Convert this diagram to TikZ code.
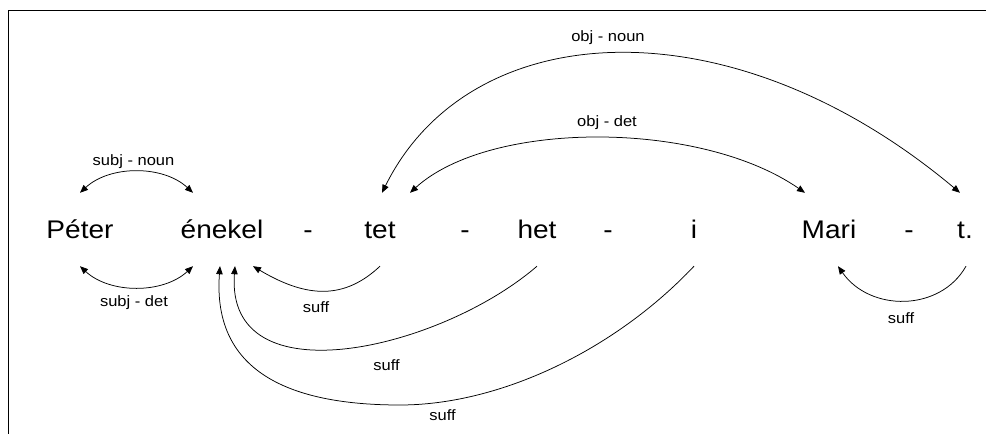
\documentclass[tikz,border=0pt]{standalone}
\usepackage{fontspec}
\setmainfont{Liberation Sans}
\newfontfamily\wordfont{Liberation Sans}[FakeStretch=1.1]
\usetikzlibrary{arrows.meta}
\begin{document}
\begin{tikzpicture}[x=1pt,y=-1pt,
  word/.style={inner sep=0pt,text height=18pt,text depth=0pt,minimum height=73pt,
    font=\wordfont\fontsize{25.5}{30}\selectfont},
  lab/.style={inner sep=0pt,anchor=base,font=\wordfont\fontsize{15}{18}\selectfont},
  dep/.style={line width=0.75pt,>={Triangle[length=8pt,width=6.5pt]}},
  frame/.style={line width=0.9pt}]
\useasboundingbox (0,0) rectangle (986,434);
\draw[frame] (8.5,434) -- (8.5,10.5) -- (986,10.5);

\node[word] (peter)  at (80,229.5)  {Péter};
\node[word] (enekel) at (222,229.5) {énekel};
\node[word] (d1)     at (308,229.5) {-};
\node[word] (tet)    at (380,229.5) {tet};
\node[word] (d2)     at (465,229.5) {-};
\node[word] (het)    at (537,229.5) {het};
\node[word] (d3)     at (608,229.5) {-};
\node[word] (i)      at (694,229.5) {i};
\node[word] (mari)   at (829,229.5) {Mari};
\node[word] (d4)     at (909,229.5) {-};
\node[word] (t)      at (965,229.5) {t.};

% subj arcs
\draw[dep,<->] (peter.north) .. controls (110,165) and (163,165) .. ([xshift=-29pt]enekel.north);
\node[lab] (lsn) at (133.5,165) {subj - noun};
\draw[dep,<->] (peter.south) .. controls (110,294) and (163,294) .. ([xshift=-29pt]enekel.south);
\node[lab] (lsd) at (134,306) {subj - det};

% obj arcs
\draw[dep,<->] ([xshift=2pt]tet.north) .. controls (470,15) and (730,0) .. ([xshift=-5pt]t.north);
\node[lab] (lon) at (608,41.5) {obj - noun};
\draw[dep,<->] ([xshift=30pt]tet.north) .. controls (490,120) and (700,120) .. ([xshift=-24pt]mari.north);
\node[lab] (lod) at (607,126.5) {obj - det};

% suff arcs
\draw[dep,->] (tet.south) .. controls (345,299) and (308,299) .. ([xshift=31pt]enekel.south);
\node[lab] (ls1) at (316,312) {suff};
\draw[dep,->] (het.south) .. controls (440,350) and (225,400) .. ([xshift=13pt]enekel.south);
\node[lab] (ls2) at (386.5,370) {suff};
\coordinate (ibot) at (400,405);
\draw[dep,->] (i.south) .. controls (615,350) and (500,405) .. (ibot)
  .. controls (295,405) and (212,375) .. ([xshift=-2pt]enekel.south);
\node[lab] (ls3) at (442.5,420.5) {suff};
\draw[dep,->] ([xshift=1pt]t.south) .. controls (940,312) and (870,312) .. ([xshift=9pt]mari.south);
\node[lab] (ls4) at (901,323) {suff};
\end{tikzpicture}
\end{document}
